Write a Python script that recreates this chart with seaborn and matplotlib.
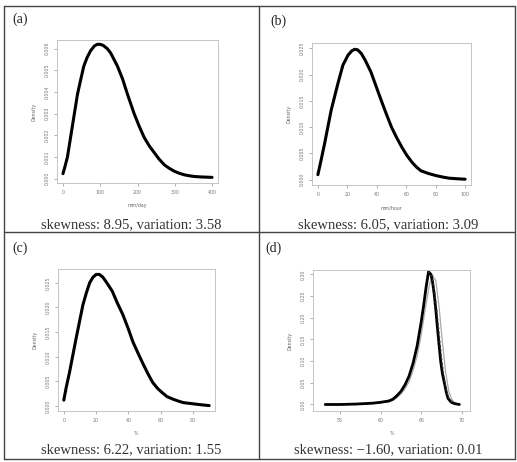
import matplotlib
matplotlib.use("Agg")
import matplotlib.pyplot as plt
import seaborn as sns
from matplotlib.lines import Line2D

# (a) rainfall, mm/day
a_x = [0, 6, 12, 25, 39, 48, 56, 65, 74, 84, 92, 100, 108, 119, 128, 137, 146, 160, 173, 191,
       205, 218, 232, 245, 258, 272, 285, 299, 312, 325, 340, 353, 370, 385, 400]
a_y = [0.00023, 0.0006, 0.0010, 0.0024, 0.0039, 0.0046, 0.0052, 0.0056, 0.0059, 0.00612, 0.0062,
       0.0062, 0.00615, 0.0060, 0.0058, 0.0055, 0.0052, 0.0046, 0.0039, 0.0030, 0.0024, 0.0019,
       0.0015, 0.0012, 0.0009, 0.00064, 0.00048, 0.00034, 0.00025, 0.00018, 0.00013, 0.0001,
       0.00008, 0.00007, 0.00006]

# (b) rainfall intensity, mm/hour
b_x = [0, 2, 4.5, 9, 13.6, 17, 20.5, 23, 25, 27, 29.5, 32, 36, 39.5, 43, 46.5, 50, 53.5, 57,
       60.5, 64, 67, 70, 75, 80, 85, 89, 95, 100]
b_y = [0.00096, 0.0035, 0.0068, 0.0132, 0.0183, 0.0218, 0.0237, 0.0245, 0.0248, 0.0247, 0.0240,
       0.0228, 0.0205, 0.0178, 0.0151, 0.0125, 0.0100, 0.0080, 0.0062, 0.0046, 0.0033, 0.0024,
       0.0017, 0.0012, 0.0008, 0.0005, 0.0003, 0.00018, 0.0001]

# (c) percent
c_x = [0, 1.5, 3.5, 7.6, 11.8, 14, 16, 18, 20, 22, 24, 26, 30, 33, 36.6, 40, 42.8, 46, 49, 52,
       55, 58, 61, 64, 67.6, 71, 74, 79, 84, 90]
c_y = [0.0012, 0.0038, 0.0068, 0.0137, 0.0205, 0.0230, 0.0250, 0.0261, 0.0267, 0.0267, 0.0262,
       0.0253, 0.0233, 0.0210, 0.0185, 0.0156, 0.0130, 0.0107, 0.0086, 0.0066, 0.0048, 0.0036,
       0.0027, 0.0019, 0.0014, 0.0010, 0.0007, 0.0005, 0.0003, 0.0001]

# (d) percent, three curves
d_x = [53.2, 55, 57, 59, 60, 61, 61.5, 62, 62.5, 63, 63.5, 64, 64.5, 65, 65.3, 65.6, 65.9,
       66.2, 66.4, 66.6, 66.8, 67.0, 67.2, 67.4, 67.6, 67.9, 68.1, 68.3, 68.7, 69.1, 69.7]
d_black = [0.0, 0.0, 0.001, 0.003, 0.005, 0.008, 0.012, 0.020, 0.030, 0.045, 0.065, 0.095,
           0.135, 0.190, 0.228, 0.270, 0.306, 0.300, 0.282, 0.254, 0.218, 0.176, 0.137, 0.099,
           0.072, 0.045, 0.027, 0.014, 0.005, 0.002, 0.0]
dd_x = [65.9, 66.1, 66.3, 66.5, 66.7, 66.9, 67.1, 67.3, 67.5, 67.7, 67.9, 68.1, 68.3, 68.5,
        68.7, 68.9, 69.1]
dd_y = [0.306, 0.303, 0.295, 0.275, 0.250, 0.218, 0.180, 0.142, 0.105, 0.075, 0.050, 0.032,
        0.018, 0.010, 0.006, 0.003, 0.002]
dg_x = [53.2, 57, 59, 60, 61, 61.5, 62, 62.5, 63, 63.5, 64, 64.5, 65, 65.5, 66.0, 66.4,
        66.8, 67.2, 67.6, 68.0, 68.4, 68.8, 69.2, 69.7]
dg_y = [0.0, 0.001, 0.002, 0.004, 0.006, 0.009, 0.015, 0.024, 0.036, 0.052, 0.078, 0.112,
        0.160, 0.220, 0.275, 0.298, 0.285, 0.225, 0.145, 0.075, 0.030, 0.010, 0.003, 0.0]

panels = ["(a)", "(b)", "(c)", "(d)"]
captions = ["skewness: 8.95, variation: 3.58", "skewness: 6.05, variation: 3.09",
            "skewness: 6.22, variation: 1.55", "skewness: −1.60, variation: 0.01"]
xlabels = ["mm/day", "mm/hour", "%", "%"]

sns.set_style("white")
plt.rcParams["font.family"] = ["DejaVu Sans"]
plt.rcParams["lines.solid_joinstyle"] = "round"
plt.rcParams["lines.solid_capstyle"] = "round"

W, H = 517, 462
fig = plt.figure(figsize=(W / 100, H / 100), dpi=100)

def fx(px):
    return px / W

def fy(py):
    return 1 - py / H

# cell borders
for xs, ys in [([4, 515], [6, 6]), ([4, 515], [459, 459]), ([4, 4], [6, 459]),
               ([515, 515], [6, 459]), ([259, 259], [6, 459]), ([4, 515], [232, 232])]:
    fig.add_artist(Line2D([fx(v) for v in xs], [fy(v) for v in ys], color="#444444", lw=1.0))

boxes = [(57, 40, 218, 183), (312, 43, 471, 185), (58, 269, 215, 411), (313, 270, 470, 411)]
label_pos = [(20, 19), (278, 21), (20, 248), (274, 248)]
cap_pos = [(131, 225), (388, 225), (131, 450), (388, 450)]

axes = []
for (l, t, r, b) in boxes:
    ax = fig.add_axes([fx(l), fy(b), (r - l) / W, (b - t) / H])
    axes.append(ax)

sns.lineplot(x=a_x, y=a_y, ax=axes[0], color="black", lw=2.2, sort=False, estimator=None)
sns.lineplot(x=b_x, y=b_y, ax=axes[1], color="black", lw=2.2, sort=False, estimator=None)
sns.lineplot(x=c_x, y=c_y, ax=axes[2], color="black", lw=2.2, sort=False, estimator=None)
sns.lineplot(x=dg_x, y=dg_y, ax=axes[3], color="#aaaaaa", lw=0.9, sort=False, estimator=None)
sns.lineplot(x=d_x, y=d_black, ax=axes[3], color="black", lw=2.0, sort=False, estimator=None)
sns.lineplot(x=dd_x, y=dd_y, ax=axes[3], color="#333333", lw=1.2, ls=":", sort=False, estimator=None)

limits = [((-16, 416), (-0.0002, 0.0064)), ((-4, 104), (-0.001, 0.026)),
          ((-3.6, 93.6), (-0.001, 0.0278)), ((51.7, 71), (-0.015, 0.31))]
xticks = [range(0, 401, 100), range(0, 101, 20), range(0, 81, 20), [55, 60, 65, 70]]
yticks = [[i * 0.001 for i in range(7)], [i * 0.005 for i in range(6)],
          [i * 0.005 for i in range(6)], [i * 0.05 for i in range(7)]]
yfmt = ["{:.3f}", "{:.3f}", "{:.3f}", "{:.2f}"]

for i, ax in enumerate(axes):
    ax.set_xlim(*limits[i][0])
    ax.set_ylim(*limits[i][1])
    ax.set_xticks(list(xticks[i]))
    ax.set_yticks(yticks[i])
    ax.set_yticklabels([yfmt[i].format(v) for v in yticks[i]], rotation=90, va="center")
    ax.tick_params(labelsize=3.4, colors="#777777", length=2, width=0.4, pad=3,
                   bottom=True, left=True, direction="out")
    for s in ax.spines.values():
        s.set_color("#bbbbbb")
        s.set_linewidth(0.6)
    ax.set_xlabel(xlabels[i], fontsize=3.4, color="#666666", labelpad=6)
    ax.set_ylabel("Density", fontsize=3.4, color="#666666", labelpad=6)

    lx, ly = label_pos[i]
    fig.text(fx(lx), fy(ly), panels[i], ha="center", va="center", fontsize=10,
             family=["Liberation Serif", "DejaVu Serif"], color="#222222")
    cx, cy = cap_pos[i]
    fig.text(fx(cx), fy(cy), captions[i], ha="center", va="center", fontsize=10.5,
             family=["Liberation Serif", "DejaVu Serif"], color="#333333")

fig.savefig("out.png", dpi=100)
